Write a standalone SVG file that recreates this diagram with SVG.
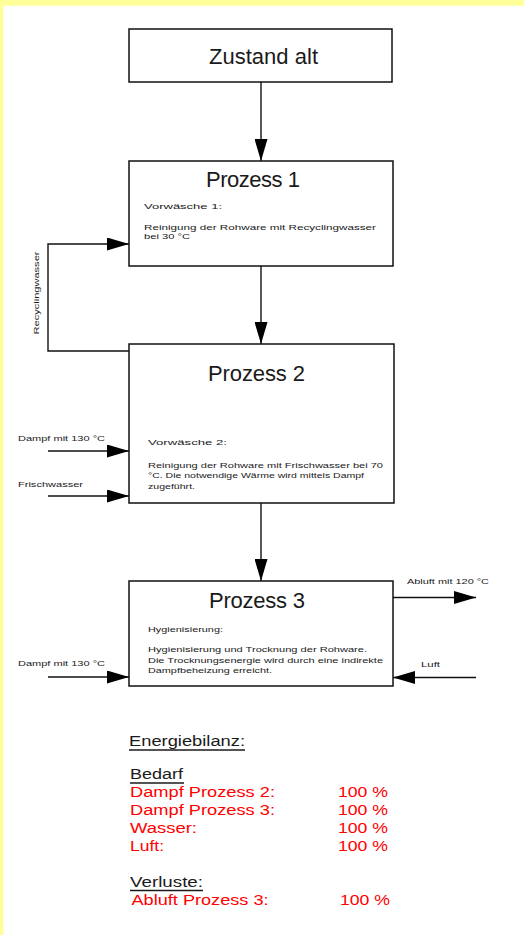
<svg xmlns="http://www.w3.org/2000/svg" width="524" height="935" viewBox="0 0 524 935">
<style>
.box{fill:#fff;stroke:#111;stroke-width:1.5}
.con{fill:none;stroke:#111;stroke-width:1.4}
text{font-family:"Liberation Sans",Arial,Helvetica,sans-serif;fill:#1a1a1a}
.title{font-size:22px}
.small{font-size:8px}
.eb{font-size:15.5px}
.red{fill:#ff0000}
.ul{stroke:#1a1a1a;stroke-width:1.3}
</style>
<defs>
<marker id="ah" markerUnits="userSpaceOnUse" markerWidth="22" markerHeight="13" refX="22" refY="6.5" orient="auto">
<path d="M0,0 L22,6.5 L0,13 z" fill="#000"/>
</marker>
</defs>
<rect x="0" y="0" width="524" height="935" fill="#fff"/>
<rect x="0" y="0" width="524" height="5.7" fill="#ffff99"/>
<rect x="0" y="0" width="3.4" height="935" fill="#ffff99"/>

<g id="connectors">
<line class="con" x1="261" y1="82" x2="261" y2="161" marker-end="url(#ah)"/>
<line class="con" x1="261" y1="266" x2="261" y2="344" marker-end="url(#ah)"/>
<line class="con" x1="261" y1="503" x2="261" y2="581" marker-end="url(#ah)"/>
<polyline class="con" points="129,351 48,351 48,244 129,244" marker-end="url(#ah)"/>
<line class="con" x1="48" y1="451" x2="129" y2="451" marker-end="url(#ah)"/>
<line class="con" x1="48" y1="496" x2="129" y2="496" marker-end="url(#ah)"/>
<line class="con" x1="48" y1="677" x2="129" y2="677" marker-end="url(#ah)"/>
<line class="con" x1="476" y1="677.5" x2="393" y2="677.5" marker-end="url(#ah)"/>
<line class="con" x1="393" y1="597.5" x2="476" y2="597.5" marker-end="url(#ah)"/>
<text class="small" transform="translate(38.5,293) rotate(-90)" text-anchor="middle" textLength="83" lengthAdjust="spacingAndGlyphs">Recyclingwasser</text>
<text class="small" x="18" y="441" textLength="87" lengthAdjust="spacingAndGlyphs">Dampf mit 130 °C</text>
<text class="small" x="18" y="487" textLength="65" lengthAdjust="spacingAndGlyphs">Frischwasser</text>
<text class="small" x="18" y="666" textLength="87" lengthAdjust="spacingAndGlyphs">Dampf mit 130 °C</text>
<text class="small" x="407" y="584" textLength="82" lengthAdjust="spacingAndGlyphs">Abluft mit 120 °C</text>
<text class="small" x="421" y="667" textLength="19" lengthAdjust="spacingAndGlyphs">Luft</text>
</g>

<g id="zustand-alt">
<rect class="box" x="129" y="29" width="263" height="53"/>
<text class="title" x="209" y="64" textLength="109">Zustand alt</text>
</g>

<g id="prozess-1">
<rect class="box" x="129" y="161" width="264" height="105"/>
<text class="title" x="206" y="187" textLength="94">Prozess 1</text>
<text class="small" x="144" y="209" textLength="78" lengthAdjust="spacingAndGlyphs">Vorwäsche 1:</text>
<text class="small" x="144" y="230" textLength="232" lengthAdjust="spacingAndGlyphs">Reinigung der Rohware mit Recyclingwasser</text>
<text class="small" x="144" y="239" textLength="46" lengthAdjust="spacingAndGlyphs">bei 30 °C</text>
</g>

<g id="prozess-2">
<rect class="box" x="129" y="344" width="265" height="159"/>
<text class="title" x="208" y="381" textLength="97">Prozess 2</text>
<text class="small" x="148" y="445" textLength="79" lengthAdjust="spacingAndGlyphs">Vorwäsche 2:</text>
<text class="small" x="148" y="468" textLength="235" lengthAdjust="spacingAndGlyphs">Reinigung der Rohware mit Frischwasser bei 70</text>
<text class="small" x="148" y="478" textLength="216" lengthAdjust="spacingAndGlyphs">°C. Die notwendige Wärme wird mittels Dampf</text>
<text class="small" x="148" y="489" textLength="47" lengthAdjust="spacingAndGlyphs">zugeführt.</text>
</g>

<g id="prozess-3">
<rect class="box" x="129" y="581" width="264" height="105"/>
<text class="title" x="209" y="608" textLength="96">Prozess 3</text>
<text class="small" x="148" y="632" textLength="75" lengthAdjust="spacingAndGlyphs">Hygienisierung:</text>
<text class="small" x="148" y="652" textLength="219" lengthAdjust="spacingAndGlyphs">Hygienisierung und Trocknung der Rohware.</text>
<text class="small" x="148" y="663" textLength="235" lengthAdjust="spacingAndGlyphs">Die Trocknungsenergie wird durch eine indirekte</text>
<text class="small" x="148" y="673" textLength="124" lengthAdjust="spacingAndGlyphs">Dampfbeheizung erreicht.</text>
</g>

<g id="energiebilanz">
<text class="eb" x="129" y="746" textLength="116" lengthAdjust="spacingAndGlyphs">Energiebilanz:</text>
<line class="ul" x1="129" y1="750" x2="245" y2="750"/>
<text class="eb" x="130" y="779" textLength="53" lengthAdjust="spacingAndGlyphs">Bedarf</text>
<line class="ul" x1="130" y1="783" x2="184" y2="783"/>
<text class="eb red" x="130" y="797" textLength="145" lengthAdjust="spacingAndGlyphs">Dampf Prozess 2:</text>
<text class="eb red" x="338" y="797" textLength="50" lengthAdjust="spacingAndGlyphs">100 %</text>
<text class="eb red" x="130" y="815" textLength="145" lengthAdjust="spacingAndGlyphs">Dampf Prozess 3:</text>
<text class="eb red" x="338" y="815" textLength="50" lengthAdjust="spacingAndGlyphs">100 %</text>
<text class="eb red" x="130" y="833" textLength="67" lengthAdjust="spacingAndGlyphs">Wasser:</text>
<text class="eb red" x="338" y="833" textLength="50" lengthAdjust="spacingAndGlyphs">100 %</text>
<text class="eb red" x="130" y="851" textLength="34" lengthAdjust="spacingAndGlyphs">Luft:</text>
<text class="eb red" x="338" y="851" textLength="50" lengthAdjust="spacingAndGlyphs">100 %</text>
<text class="eb" x="130" y="887" textLength="73" lengthAdjust="spacingAndGlyphs">Verluste:</text>
<line class="ul" x1="130" y1="890.5" x2="203" y2="890.5"/>
<text class="eb red" x="131.5" y="904.5" textLength="137" lengthAdjust="spacingAndGlyphs">Abluft Prozess 3:</text>
<text class="eb red" x="340" y="904.5" textLength="50" lengthAdjust="spacingAndGlyphs">100 %</text>
</g>
</svg>
